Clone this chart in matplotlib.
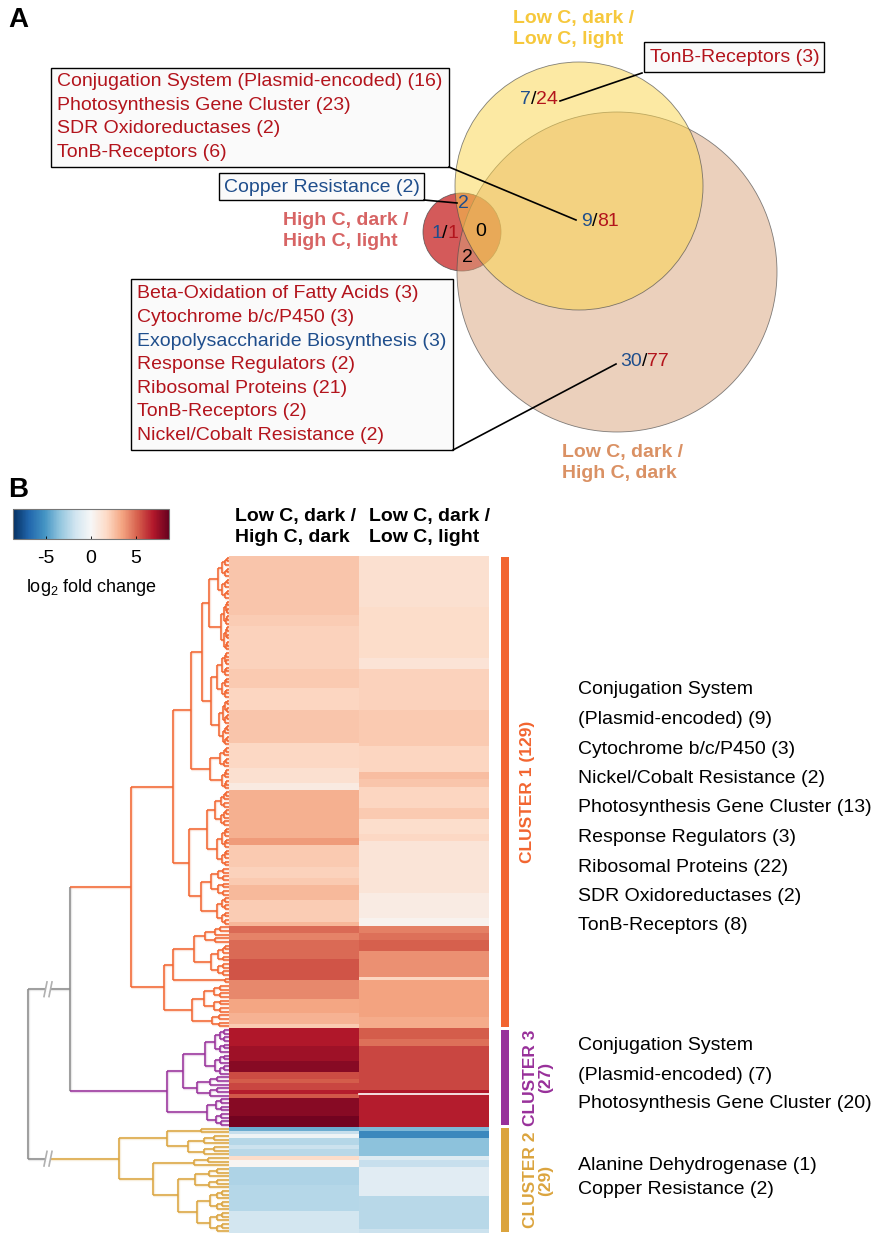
import numpy as np
import matplotlib
matplotlib.use("Agg")
import matplotlib.pyplot as plt
from matplotlib.patches import Circle, Rectangle
from matplotlib.colors import Normalize
from matplotlib.cm import ScalarMappable

plt.rcParams["font.family"] = ["Liberation Sans", "DejaVu Sans"]
plt.rcParams["mathtext.fontset"] = "custom"
plt.rcParams["mathtext.rm"] = "Liberation Sans"
plt.rcParams["axes.unicode_minus"] = False

# ---------------------------------------------------------------- data
DOWN = "#1f4e8c"
UP = "#b3141c"

# Panel A: gene counts per Venn region as (down-regulated, up-regulated)
high_c_only = (1, 1)
low_light_only = (7, 24)
low_light_and_high_dark = (9, 81)
high_dark_only = (30, 77)
high_c_low_light_down = 2
high_c_all_three = 0
high_c_high_dark = 2

set_labels = ["High C, dark /\nHigh C, light",
              "Low C, dark /\nLow C, light",
              "Low C, dark /\nHigh C, dark"]
set_label_colors = ["#d76464", "#f6c83c", "#da9164"]

# functional categories called out for each region: (text, direction)
box_shared = [("Conjugation System (Plasmid-encoded) (16)", "up"),
              ("Photosynthesis Gene Cluster (23)", "up"),
              ("SDR Oxidoreductases (2)", "up"),
              ("TonB-Receptors (6)", "up")]
box_copper = [("Copper Resistance (2)", "down")]
box_tonb = [("TonB-Receptors (3)", "up")]
box_high_dark = [("Beta-Oxidation of Fatty Acids (3)", "up"),
                 ("Cytochrome b/c/P450 (3)", "up"),
                 ("Exopolysaccharide Biosynthesis (3)", "down"),
                 ("Response Regulators (2)", "up"),
                 ("Ribosomal Proteins (21)", "up"),
                 ("TonB-Receptors (2)", "up"),
                 ("Nickel/Cobalt Resistance (2)", "up")]

# Panel B: log2 fold change, stored as runs of (rows, value) in dendrogram order
lowdark_vs_highdark = [(16, 2.4), (3, 2.2), (12, 2.0), (5, 2.3), (6, 1.9), (9, 2.4),
                       (7, 1.8), (4, 1.4), (2, 0.8), (13, 3.1), (2, 3.7), (6, 2.3),
                       (3, 2.0), (2, 2.3), (4, 2.8), (6, 2.2), (1, 2.9), (2, 4.9),
                       (2, 4.3), (5, 4.9), (6, 5.5), (5, 4.2), (4, 3.4), (3, 3.0),
                       (1, 2.3),
                       (5, 7.0), (4, 7.4), (3, 7.9), (2, 5.7), (1, 5.3), (2, 5.8),
                       (1, 6.8), (1, 5.4), (5, 7.9), (3, 8.4),
                       (1, -4.3), (1, -2.0), (1, -0.4), (2, -2.5), (1, -1.9),
                       (2, -2.4), (1, 1.6), (2, 0.2), (5, -2.7), (7, -2.5), (6, -1.6)]
lowdark_vs_lowlight = [(14, 1.4), (14, 1.6), (3, 1.2), (11, 2.0), (10, 2.3), (7, 1.9),
                       (2, 2.7), (2, 2.4), (6, 1.9), (3, 2.3), (4, 1.5), (2, 1.8),
                       (14, 1.1), (7, 0.7), (2, 0.3), (2, 4.4), (2, 4.8), (3, 5.2),
                       (7, 4.0), (1, 1.9), (10, 3.5), (3, 3.2),
                       (3, 5.3), (2, 4.8), (12, 5.8), (1, 7.0), (9, 6.8),
                       (1, -3.9), (2, -5.6), (5, -3.6), (1, -1.1), (2, -2.0),
                       (8, -1.0), (9, -2.4), (1, -1.9)]
column_labels = ["Low C, dark /\nHigh C, dark", "Low C, dark /\nLow C, light"]

cluster_names = ["CLUSTER 1 (129)", "CLUSTER 3\n(27)", "CLUSTER 2\n(29)"]
cluster_sizes = [129, 27, 29]
cluster_colors = ["#f26530", "#98309a", "#dba43e"]
cluster_terms = [["Conjugation System", "(Plasmid-encoded) (9)",
                  "Cytochrome b/c/P450 (3)", "Nickel/Cobalt Resistance (2)",
                  "Photosynthesis Gene Cluster (13)", "Response Regulators (3)",
                  "Ribosomal Proteins (22)", "SDR Oxidoreductases (2)",
                  "TonB-Receptors (8)"],
                 ["Conjugation System", "(Plasmid-encoded) (7)",
                  "Photosynthesis Gene Cluster (20)"],
                 ["Alanine Dehydrogenase (1)", "Copper Resistance (2)"]]

# row dendrogram: (height, left, right) nodes or (height, n) compact leaf groups
cluster1_tree = (98,
                 (56,
                  (38,
                   (27, (20, (11, 12), (8, 14)), (18, (12, 13), (10, 13))),
                   (19, (9, 6), (7, 6))),
                  (40, (22, (14, 10), (12, 11)), (28, (18, 8), (12, 8)))),
                 (65,
                  (56, (35, (24, 5), (18, 9)), (4, 2)),
                  (37, (25, 8), (17, 4))))
cluster3_tree = (62, (46, (24, 13), (32, 6)), (22, 8))
cluster2_tree = (110, (62, (28, 2), (41, 6)), (76, (35, 3), (51, (34, 6), (32, 12))))
join_13_height = 159
root_height = 201
break_height = 181

VMAX = 8.7

# ---------------------------------------------------------------- figure
W, H = 872, 1233
fig = plt.figure(figsize=(W / 100, H / 100), dpi=100)


def px_axes(x0, y0, x1, y1):
    return fig.add_axes([x0 / W, 1 - y1 / H, (x1 - x0) / W, (y1 - y0) / H])


ax0 = fig.add_axes([0, 0, 1, 1])
ax0.set_xlim(0, W)
ax0.set_ylim(H, 0)
ax0.axis("off")

FS = 14

ax0.text(8, 20, "A", fontsize=20, fontweight="bold", va="center")
ax0.text(8, 490, "B", fontsize=20, fontweight="bold", va="center")

# ---- Venn circles
ax0.add_patch(Circle((462, 232), 39, fc="#d45a5a", ec=(0.3, 0.3, 0.3, 0.8), lw=0.6))
ax0.add_patch(Circle((617, 272), 160, fc=(217 / 255, 162 / 255, 122 / 255, 0.5),
                     ec=(0.3, 0.3, 0.3, 0.7), lw=0.6))
ax0.add_patch(Circle((579, 186), 124, fc=(251 / 255, 213 / 255, 72 / 255, 0.5),
                     ec=(0.3, 0.3, 0.3, 0.7), lw=0.6))

label_pos = [(283, 231), (513, 29), (562, 463)]
for txt, col, (x, y) in zip(set_labels, set_label_colors, label_pos):
    ax0.text(x, y, txt, color=col, fontsize=FS, fontweight="bold",
             ha="left", va="center", linespacing=1.25)


def ratio(x, y, pair):
    t1 = ax0.text(x, y, str(pair[0]), color=DOWN, fontsize=FS, ha="left", va="center")
    t2 = ax0.annotate("/", xy=(1, 0), xycoords=t1, color="black", fontsize=FS,
                      ha="left", va="bottom")
    ax0.annotate(str(pair[1]), xy=(1, 0), xycoords=t2, color=UP, fontsize=FS,
                 ha="left", va="bottom")


ratio(431, 233, high_c_only)
ratio(520, 100, low_light_only)
ratio(581, 222, low_light_and_high_dark)
ratio(620, 362, high_dark_only)
ax0.text(463, 203, str(high_c_low_light_down), color=DOWN, fontsize=FS, ha="center", va="center")
ax0.text(481, 232, str(high_c_all_three), color="black", fontsize=FS, ha="center", va="center")
ax0.text(467, 258, str(high_c_high_dark), color="black", fontsize=FS, ha="center", va="center")


def callout(x0, y0, x1, y1, rows, tx, ty0, dy):
    ax0.add_patch(Rectangle((x0, y0), x1 - x0, y1 - y0, fc="#fafafa", ec="black", lw=1.0))
    for i, (txt, d) in enumerate(rows):
        ax0.text(tx, ty0 + i * dy, txt, color=UP if d == "up" else DOWN,
                 fontsize=FS, ha="left", va="center")


callout(51, 68, 449, 167, box_shared, 57, 82, 23.4)
callout(219, 173, 424, 200, box_copper, 224, 187, 0)
callout(644, 42, 824, 72, box_tonb, 650, 57, 0)
callout(131, 279, 453, 450, box_high_dark, 137, 294, 23.6)

for (xa, ya), (xb, yb) in [((449, 167), (576, 220)), ((424, 200), (457, 203)),
                           ((642, 73), (560, 101)), ((453, 450), (616, 364))]:
    ax0.plot([xa, xb], [ya, yb], color="black", lw=1.2, zorder=5)

# ---- Panel B heatmap
col1 = np.repeat([v for _, v in lowdark_vs_highdark], [n for n, _ in lowdark_vs_highdark])
col2 = np.repeat([v for _, v in lowdark_vs_lowlight], [n for n, _ in lowdark_vs_lowlight])
data = np.column_stack([col1, col2])
n_rows = data.shape[0]

norm = Normalize(-VMAX, VMAX)
ax_hm = px_axes(229, 556, 489, 1233)
ax_hm.imshow(data, cmap="RdBu_r", norm=norm, aspect="auto", interpolation="nearest",
             extent=(0, 2, n_rows, 0))
ax_hm.plot([1, 2], [147, 147], color="white", lw=1.2)
ax_hm.set_xlim(0, 2)
ax_hm.set_ylim(n_rows, 0)
ax_hm.axis("off")

for i, lab in enumerate(column_labels):
    ax0.text([235, 369][i], 527, lab, fontsize=FS, fontweight="bold",
             ha="left", va="center", linespacing=1.25)

# ---- colorbar
ax_cb = px_axes(13, 509, 169, 539)
cb = fig.colorbar(ScalarMappable(norm=norm, cmap="RdBu_r"), cax=ax_cb,
                  orientation="horizontal", ticks=[-5, 0, 5])
cb.ax.tick_params(labelsize=FS, length=2, width=0.6, direction="in", pad=8)
cb.outline.set_edgecolor("#777777")
cb.outline.set_linewidth(0.8)
ax0.text(91, 588, r"log$_\mathregular{2}$ fold change", fontsize=13, ha="center", va="center")

# ---- dendrogram
ax_d = px_axes(0, 556, 229, 1233)
ax_d.set_xlim(229, 0)
ax_d.set_ylim(n_rows, 0)
ax_d.axis("off")


def make_tree(spec, start):
    if spec == 1:
        return {"h": 0.0, "pos": start + 0.5, "kids": []}, 1
    if len(spec) == 2:
        h, n = spec
        a, b = (n + 1) // 2, n // 2
        sub = lambda k: 1 if k == 1 else (h * 0.6, k)
        spec = (h, sub(a), sub(b))
    h, left, right = spec
    ln, na = make_tree(left, start)
    rn, nb = make_tree(right, start + na)
    return {"h": h, "pos": (ln["pos"] + rn["pos"]) / 2, "kids": [ln, rn]}, na + nb


def seg(x, y, color):
    ax_d.plot(x, y, color=color, lw=2.4, alpha=0.18, solid_capstyle="butt")
    ax_d.plot(x, y, color=color, lw=1.1, solid_capstyle="butt")


def draw_tree(node, color):
    if not node["kids"]:
        return
    l, r = node["kids"]
    seg([node["h"], node["h"]], [l["pos"], r["pos"]], color)
    for k in (l, r):
        seg([node["h"], k["h"]], [k["pos"], k["pos"]], color)
        draw_tree(k, color)


starts = np.concatenate([[0], np.cumsum(cluster_sizes)[:-1]])
trees = []
for spec, s, c in zip([cluster1_tree, cluster3_tree, cluster2_tree], starts, cluster_colors):
    node, _ = make_tree(spec, s)
    draw_tree(node, c)
    trees.append(node)

GRAY = "#8a8a8a"
c1, c3, c2 = trees
p13 = (c1["pos"] + c3["pos"]) / 2
seg([join_13_height] * 2, [c1["pos"], c3["pos"]], GRAY)
seg([join_13_height, c1["h"]], [c1["pos"]] * 2, cluster_colors[0])
seg([join_13_height, c3["h"]], [c3["pos"]] * 2, cluster_colors[1])
seg([root_height] * 2, [p13, c2["pos"]], GRAY)
seg([root_height, break_height], [p13] * 2, GRAY)
seg([break_height, join_13_height], [p13] * 2, GRAY)
seg([root_height, break_height], [c2["pos"]] * 2, GRAY)
seg([break_height, c2["h"]], [c2["pos"]] * 2, cluster_colors[2])
for p in (p13, c2["pos"]):
    ax_d.fill_between([break_height - 3, break_height + 3], p - 0.6, p + 0.6,
                      color="white", zorder=4, lw=0)
    for dx in (-2.5, 2.5):
        ax_d.plot([break_height + dx + 1.5, break_height + dx - 1.5], [p + 2, p - 2],
                  color="#b0b0b0", lw=1.2, zorder=5)

# ---- cluster bars, labels and enriched categories
ax_b = px_axes(501, 556, 509, 1233)
ax_b.set_xlim(0, 1)
ax_b.set_ylim(n_rows, 0)
ax_b.axis("off")
ax_b.bar(np.full(3, 0.5), np.array(cluster_sizes) - 0.8, bottom=starts + 0.4,
         width=1.0, color=cluster_colors)
for name, s, n, c in zip(cluster_names, starts, cluster_sizes, cluster_colors):
    off = 13 if "\n" not in name else 21
    ax_b.annotate(name, xy=(1, s + n / 2), xycoords=("axes fraction", "data"),
                  xytext=(off, 0), textcoords="offset points", rotation=90,
                  ha="center", va="center", color=c, fontsize=12.5,
                  fontweight="bold", multialignment="center", linespacing=1.05)

term_layout = [(690, 29.5), (1046, 29.0), (1166, 23.0)]
for terms, (y0, dy) in zip(cluster_terms, term_layout):
    for i, t in enumerate(terms):
        ax0.text(578, y0 + i * dy, t, fontsize=FS, ha="left", va="center")

fig.savefig("out.png", dpi=100)
